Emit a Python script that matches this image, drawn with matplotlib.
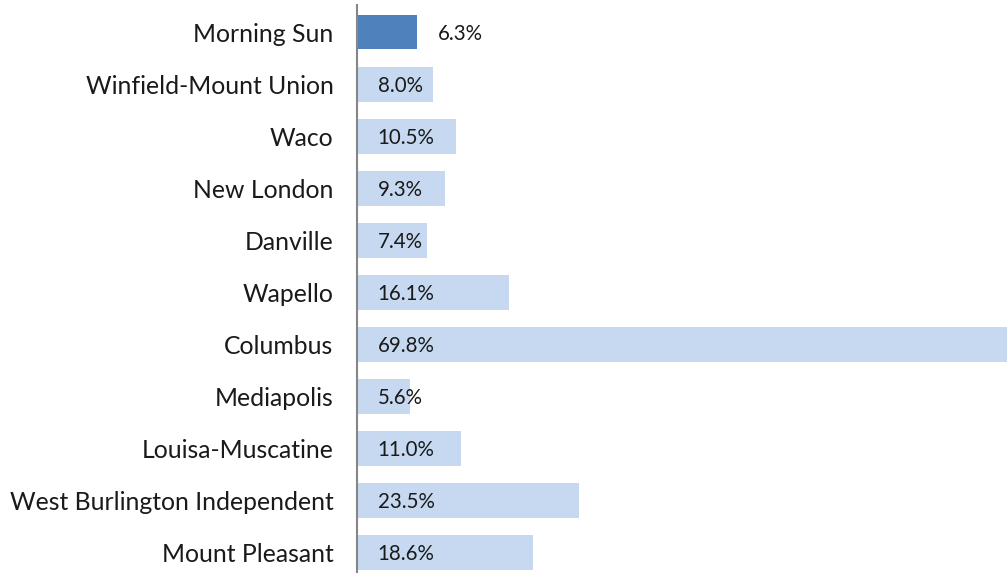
import matplotlib
matplotlib.use("Agg")
import matplotlib.pyplot as plt

categories = ["Morning Sun", "Winfield-Mount Union", "Waco", "New London", "Danville",
              "Wapello", "Columbus", "Mediapolis", "Louisa-Muscatine",
              "West Burlington Independent", "Mount Pleasant"]
values = [6.3, 8.0, 10.5, 9.3, 7.4, 16.1, 69.8, 5.6, 11.0, 23.5, 18.6]
highlight = "Morning Sun"

plt.rcParams['font.family'] = ['Lato', 'DejaVu Sans']

fig = plt.figure(figsize=(10.07, 5.73), dpi=100)
# axes extends slightly past the right edge (longest bar is clipped by the figure)
ax = fig.add_axes([357/1007, -5.5/573, 660/1007, 572.5/573])

ypos = list(range(len(categories)))
colors = ["#4F81BD" if c == highlight else "#C6D9F1" for c in categories]
ax.barh(ypos, values, height=0.67, color=colors)
ax.set_xlim(0, max(values))
ax.set_ylim(len(categories) - 0.5, -0.5)

for y, v, c in zip(ypos, values, categories):
    x0 = v if c == highlight else 0
    ax.annotate(f"{v:.1f}%", (x0, y), xytext=(15, 0), textcoords="offset points",
                va="center_baseline", ha="left", fontsize=14.8, color="#1a1a1a")

ax.set_yticks(ypos)
ax.set_yticklabels(categories, fontsize=17.8, color="#1a1a1a")
ax.tick_params(axis="y", length=0, pad=17)
ax.set_xticks([])
for s in ["top", "right", "bottom"]:
    ax.spines[s].set_visible(False)
ax.spines["left"].set_color("#868686")
ax.spines["left"].set_linewidth(1.5)
ax.spines["left"].set_bounds(len(categories) - 0.5, -0.52)

fig.savefig("out.png", dpi=100)
